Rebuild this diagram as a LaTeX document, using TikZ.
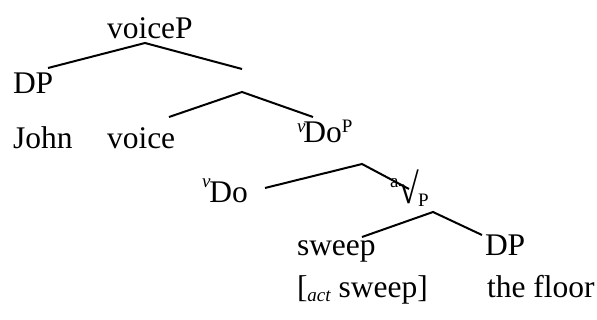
\documentclass[tikz,border=0pt]{standalone}
\usepackage{fontspec}
\setmainfont{Liberation Serif}
\usepackage{graphicx}
\usepackage{tikz}
\usetikzlibrary{positioning}

% small raised / lowered pieces of a label
\newcommand{\lilfont}{\fontsize{19}{19}\selectfont}
\newcommand{\sraise}[2]{\raisebox{#1}{\lilfont #2}}
\newcommand{\slower}[2]{\raisebox{-#1}{\lilfont #2}}

\begin{document}
\begin{tikzpicture}[
  x=1pt, y=-1pt,
  lbl/.style={anchor=base west, inner sep=0pt, outer sep=0pt, font=\fontsize{31.5}{36}\selectfont},
  branch/.style={line width=2pt, line join=miter}
]
\useasboundingbox (0,0) rectangle (597,320);

% labels (placed at their baselines)
\node[lbl] (voiceP)   at (107,39)  {voiceP};
\node[lbl] (dp1)      at (13,94)   {DP};
\node[lbl] (john)     at (13,149)  {John};
\node[lbl] (voice)    at (107,149) {voice};
\node[lbl] (vdoP)     at (297,143) {\sraise{10pt}{\itshape v}\kern-2pt Do\sraise{10pt}{P}};
\node[lbl] (vdo)      at (202,203) {\sraise{15pt}{\itshape v}\kern-1pt Do};
\node[lbl] (rootP)    at (390,203) {\sraise{15pt}{a}\raisebox{-1pt}{\scalebox{1.2}[1.35]{√}}\kern-1pt\slower{4pt}{P}};
\node[lbl] (sweep)    at (297,256) {sweep};
\node[lbl] (dp2)      at (485,256) {DP};
\node[lbl] (actsweep) at (297,298) {[\slower{4pt}{\itshape act} sweep]};
\node[lbl] (floor)    at (487,298) {the floor};

% branch points
\coordinate (vP-top)   at (145,43);
\coordinate (vP-l)     at (48,68);
\coordinate (vP-r)     at (242,69);
\coordinate (vbar-top) at (242,92);
\coordinate (vbar-l)   at (169,117);
\coordinate (vbar-r)   at (313,117);
\coordinate (do-top)   at (362,164);
\coordinate (do-l)     at (265,188);
\coordinate (do-r)     at (409,189);
\coordinate (rt-top)   at (433,212);
\coordinate (rt-l)     at (362,237);
\coordinate (rt-r)     at (482,235);

% branches
\draw[branch] (vP-l) -- (vP-top) -- (vP-r);
\draw[branch] (vbar-l) -- (vbar-top) -- (vbar-r);
\draw[branch] (do-l) -- (do-top) -- (do-r);
\draw[branch] (rt-l) -- (rt-top) -- (rt-r);
\end{tikzpicture}
\end{document}
